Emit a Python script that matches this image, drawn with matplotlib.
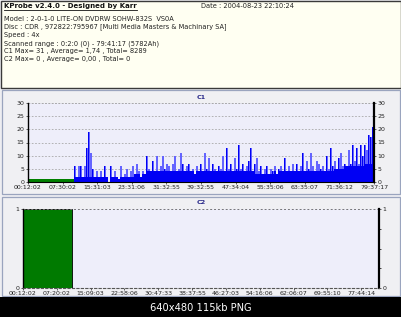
import numpy as np
import matplotlib
matplotlib.use("Agg")
import matplotlib.pyplot as plt
from matplotlib.patches import Rectangle

W, H = 402, 317

header = "KProbe v2.4.0 - Designed by Karr"
date_text = "Date : 2004-08-23 22:10:24"
info_lines = [
    "Model : 2-0-1-0 LITE-ON DVDRW SOHW-832S  VS0A",
    "Disc : CDR , 972822:795967 [Multi Media Masters & Machinary SA]",
    "Speed : 4x",
    "Scanned range : 0:2:0 (0) - 79:41:17 (5782Ah)",
    "C1 Max= 31 , Average= 1,74 , Total= 8289",
    "C2 Max= 0 , Average= 0,00 , Total= 0",
]
footer = "640x480 115kb PNG"

c1_ticks = ["00:12:02", "07:30:02", "15:31:03", "23:31:06", "31:32:55", "39:32:55",
            "47:34:04", "55:35:06", "63:35:07", "71:36:12", "79:37:17"]
c2_ticks = ["00:12:02", "07:20:02", "15:09:03", "22:58:06", "30:47:33", "38:37:55",
            "46:27:03", "54:16:06", "62:06:07", "69:55:10", "77:44:14"]

# C1 peaks, one per sample after the skipped start
c1_values = [6, 2, 6, 6, 2, 6, 13, 19, 11, 5,
             2, 4, 2, 4, 2, 6, 2, 0, 6, 2,
             4, 2, 1, 6, 2, 3, 5, 2, 4, 6,
             3, 7, 4, 2, 4, 3, 10, 5, 4, 8,
             4, 10, 4, 6, 10, 5, 7, 6, 4, 7,
             10, 4, 5, 11, 7, 4, 6, 7, 4, 5,
             3, 6, 4, 7, 4, 11, 5, 9, 4, 7,
             5, 4, 6, 5, 10, 4, 13, 5, 7, 4,
             9, 5, 14, 5, 7, 4, 6, 8, 13, 4,
             7, 9, 4, 6, 3, 5, 6, 3, 5, 4,
             6, 3, 5, 6, 4, 9, 4, 6, 4, 7,
             4, 7, 4, 6, 11, 4, 8, 5, 11, 6,
             4, 8, 7, 5, 6, 4, 10, 5, 13, 6,
             8, 5, 9, 11, 6, 7, 6, 12, 7, 14,
             8, 13, 7, 14, 10, 14, 12, 18, 17, 21,
             31]
# dense background level, one value per 5 samples
c1_base = [2, 2, 2, 2, 2, 2, 3, 4, 4, 4,
           4, 4, 4, 4, 4, 4, 4, 4, 3, 3,
           4, 4, 4, 4, 4, 4, 5, 6, 6, 7, 7]
c1_skipped = 23      # samples before the scan data starts (green)
c2_skipped = 0.138   # fraction of the C2 axis that is green

fig = plt.figure(figsize=(W / 100, H / 100), dpi=100)
fig.patch.set_facecolor("#EEEEF2")

bg = fig.add_axes([0, 0, 1, 1])
bg.set_xlim(0, W)
bg.set_ylim(H, 0)
bg.axis("off")

# frames
bg.add_patch(Rectangle((0.5, 0.5), W - 1, 87.5, fc="#FFFFF2", ec="#3A3A3A", lw=1))
bg.add_patch(Rectangle((2, 90), W - 4, 104, fc="#F0F0F3", ec="#9AA4BE", lw=0.9))
bg.add_patch(Rectangle((2, 196.5), W - 4, 99.5, fc="#F0F0F3", ec="#9AA4BE", lw=0.9))
bg.add_patch(Rectangle((0, 297), W, 20, fc="black", ec="none"))

ht = bg.text(4, 6, header, fontsize=5.0, fontweight="bold", va="center", ha="left", color="#111111")
bg.text(201, 6, date_text, fontsize=4.8, va="center", ha="left", color="#222222")
for i, line in enumerate(info_lines):
    bg.text(4, 19 + i * 8.1, line, fontsize=4.8, va="center", ha="left", color="#222222")
bg.text(201, 308, footer, fontsize=7.1, va="center", ha="center", color="white")
bg.text(201, 97.5, "C1", fontsize=4.6, fontweight="bold", va="center", ha="center", color="#2A2A8A")
bg.text(201, 203, "C2", fontsize=4.6, fontweight="bold", va="center", ha="center", color="#2A2A8A")

fig.canvas.draw()
bb = ht.get_window_extent().transformed(bg.transData.inverted())
bg.plot([bb.x0, bb.x1], [10.2, 10.2], color="#111111", lw=0.6)


def px_axes(x0, y0, x1, y1):
    return fig.add_axes([x0 / W, 1 - y1 / H, (x1 - x0) / W, (y1 - y0) / H])


def style(ax):
    ax.set_facecolor("#EEEEFA")
    ax.spines["top"].set_visible(False)
    ax.spines["left"].set_color("black")
    ax.spines["right"].set_color("black")
    ax.spines["left"].set_linewidth(1.0)
    ax.spines["right"].set_linewidth(1.6)
    ax.tick_params(axis="both", labelsize=4.5, length=1.5, width=0.5, pad=1,
                   colors="#222222", labelright=True, right=True)


# C1
ax1 = px_axes(28, 103, 374, 182)
style(ax1)
vals = np.array(c1_values, dtype=float)
base = np.repeat(c1_base, 5)[:len(vals)]
xs = c1_skipped + np.arange(len(vals))
n_total = c1_skipped + len(vals) - 1
ax1.bar(0, 1, width=c1_skipped, align="edge", color="#008000", lw=0)
ax1.bar(xs, vals, width=1.0, align="edge", color="#6464FF", lw=0)
ax1.bar(xs, np.minimum(base, vals), width=1.0, align="edge", color="#0000F4", lw=0)
big = (vals >= 13) | (np.arange(len(vals)) % 3 == 0)
ax1.bar(xs[big], vals[big], width=0.6, align="edge", color="#0000F4", lw=0)
ax1.set_xlim(0, n_total)
ax1.set_ylim(0, 30)
ax1.set_yticks(range(0, 31, 5))
ax1.set_xticks(np.linspace(0, n_total, len(c1_ticks)))
ax1.set_xticklabels(c1_ticks)
ax1.grid(axis="y", color="#A8A8A8", ls=(0, (2, 2)), lw=0.6)
ax1.set_axisbelow(True)
ax1.axhline(30, color="#A8A8A8", ls=(0, (2, 2)), lw=0.6)
ax1.spines["bottom"].set_linewidth(0.8)

# C2
ax2 = px_axes(23, 209, 379, 288)
style(ax2)
ax2.bar(0, 1, width=c2_skipped, align="edge", color="#007A00", ec="black", lw=0.6)
ax2.set_xlim(0, 1)
ax2.set_ylim(0, 1)
ax2.set_yticks([0, 1])
ax2.set_yticks([0.25, 0.5, 0.75], minor=True)
ax2.tick_params(axis="y", which="minor", length=1.5, width=0.5, right=True, left=False)
ax2.set_xticks(np.linspace(0, 0.95, len(c2_ticks)))
ax2.set_xticklabels(c2_ticks)
ax2.spines["bottom"].set_linestyle((0, (2, 2)))
ax2.spines["bottom"].set_color("#555555")
ax2.axhline(1, color="#777777", ls=(0, (2, 2)), lw=0.7)

fig.savefig("out.png", dpi=100, facecolor=fig.get_facecolor())
